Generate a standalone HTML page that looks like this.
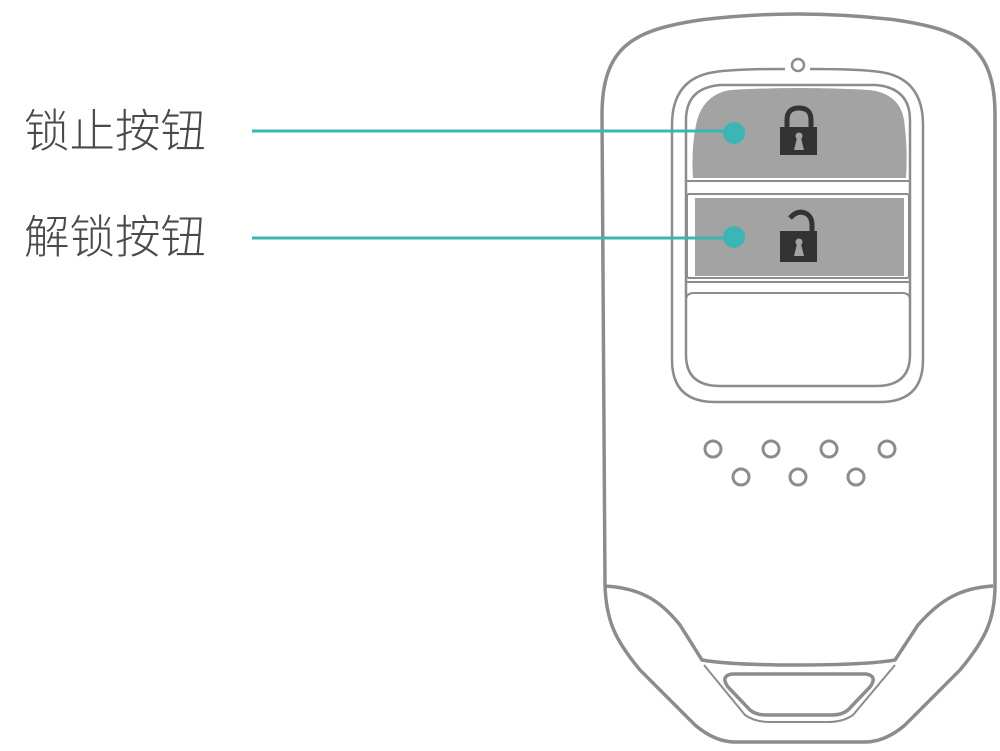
<!DOCTYPE html>
<html><head><meta charset="utf-8"><style>
html,body{margin:0;padding:0;background:#fff;}
svg{display:block;}
text{font-family:"Liberation Sans","Noto Sans CJK SC",sans-serif;}
</style></head><body>
<svg width="1000" height="751" viewBox="0 0 1000 751" xmlns="http://www.w3.org/2000/svg">
<g fill="none" stroke="#8c8c8c" stroke-width="3">
  <path d="M602 115 C602 45 635 30 700 20 Q798 8 896 20 C962 30 995 45 995 115 L995 585 C995 620 985 640 960 670 L905 725 Q885 742 865 742 L735 742 Q715 742 695 725 L640 670 C615 640 606 620 605 585 Z" stroke-width="3.5"/>
  <path d="M605 586 C640 588 660 600 680 625 L702 660 Q730 665 798 665 Q866 665 895 660 L918 625 C940 600 960 588 993 586" stroke-width="3.5"/>
  <path d="M704 665 L745 715 Q755 722 770 722 L828 722 Q843 722 853 715 L895 665" stroke-width="2"/>
  <path d="M732 674 L866 674 Q878 676 870 687 L848 710 Q842 715 832 715 L766 715 Q756 715 750 710 L728 687 Q720 676 732 674 Z" stroke-width="3.5"/>
  <circle cx="798" cy="65" r="6" stroke-width="2.5"/>
  <path d="M785 69 Q735 69 715 72 Q672 78 672 125 L672 360 Q672 402 715 402 L880 402 Q923 402 923 360 L923 125 Q923 78 880 72 Q860 69 810 69" stroke-width="2.5"/>
  <path d="M720 85 L876 85 Q910 88 910 120 L910 355 Q910 386 876 386 L720 386 Q686 386 686 355 L686 120 Q686 88 720 85 Z" stroke-width="2.5"/>
  <line x1="686" y1="181" x2="910" y2="181" stroke-width="2"/>
  <rect x="687" y="194" width="222" height="84" rx="2" stroke-width="2"/>
  <line x1="686" y1="282" x2="910" y2="282" stroke-width="2"/>
  <path d="M686 300 Q686 293 694 293 L902 293 Q910 293 910 300" stroke-width="2"/>
  <circle cx="713" cy="449" r="8"/><circle cx="771" cy="449" r="8"/><circle cx="829" cy="449" r="8"/><circle cx="887" cy="449" r="8"/>
  <circle cx="741" cy="477" r="8"/><circle cx="798" cy="477" r="8"/><circle cx="856" cy="477" r="8"/>
</g>
<path d="M693 178 Q691 150 696 125 Q702 95 730 90 Q798 86 870 90 Q900 94 904 120 Q908 150 906 178 Z" fill="#a2a3a2"/>
<rect x="695" y="198" width="209" height="78" fill="#a2a3a2"/>
<g fill="#333">
  <path d="M787 128 L787 120 Q787 108 799 108 Q811 108 811 120 L811 128" fill="none" stroke="#333" stroke-width="5"/>
  <rect x="780" y="127" width="37" height="28"/>
  <path d="M790 218 Q797 210 805 213 Q812 216 812 225 L812 232" fill="none" stroke="#333" stroke-width="5"/>
  <rect x="780" y="231" width="37" height="31"/>
</g>
<g fill="#a2a3a2">
  <circle cx="799" cy="136" r="3.5"/><path d="M797 138 L801 138 L804 150 L794 150 Z"/>
  <circle cx="799" cy="242" r="3.5"/><path d="M797 244 L801 244 L804 256 L794 256 Z"/>
</g>
<line x1="252" y1="131" x2="734" y2="131" stroke="#3bb5b5" stroke-width="3"/>
<line x1="252" y1="238" x2="734" y2="238" stroke="#3bb5b5" stroke-width="3"/>
<circle cx="734" cy="133" r="11" fill="#3bb5b5"/>
<circle cx="734" cy="237" r="11" fill="#3bb5b5"/>
<text x="24" y="147" font-size="45.5" fill="#4a4a4a" font-weight="300">锁止按钮</text>
<text x="24" y="253" font-size="45.5" fill="#4a4a4a" font-weight="300">解锁按钮</text>
</svg>
</body></html>
